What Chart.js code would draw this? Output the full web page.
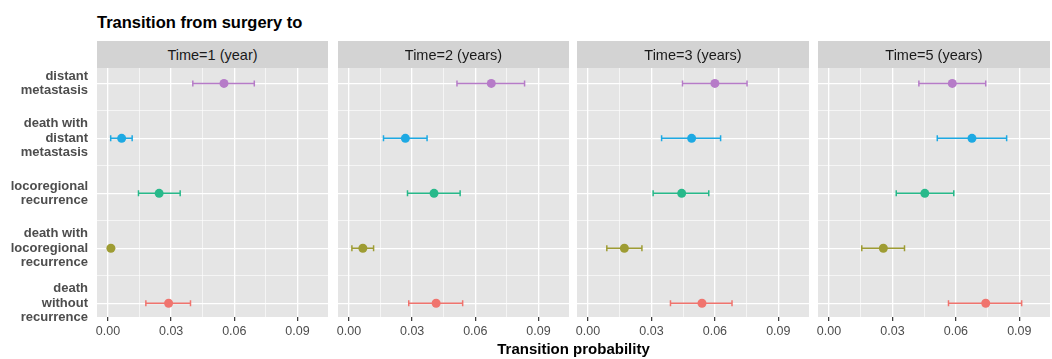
<!DOCTYPE html>
<html>
<head>
<meta charset="utf-8">
<script src="https://cdn.jsdelivr.net/npm/chart.js@4.4.0/dist/chart.umd.min.js"></script>
<style>
    body {
        margin: 0;
        background: #ffffff;
        width: 1052px;
        height: 359px;
        position: relative;
        overflow: hidden;
        font-family: "Liberation Sans", Arial, sans-serif;
    }
    .title {
        position: absolute;
        left: 97px;
        top: 14px;
        font-size: 16.5px;
        font-weight: bold;
        line-height: 1;
        color: #000000;
        white-space: nowrap;
    }
    .strip {
        position: absolute;
        top: 41px;
        height: 27px;
        background: #D3D3D3;
        color: #1A1A1A;
        font-size: 14.5px;
        display: flex;
        align-items: center;
        justify-content: center;
        z-index: 2;
    }
    .box {
        position: absolute;
        top: 41px;
    }
    .xtitle {
        position: absolute;
        left: 97px;
        width: 953px;
        top: 341px;
        text-align: center;
        font-size: 15px;
        font-weight: bold;
        line-height: 1;
        color: #000000;
    }
</style>
</head>
<body>
<div class="title">Transition from surgery to</div>
<div id="panels"></div>
<div class="xtitle">Transition probability</div>
<script>
// categories top to bottom
var CATEGORIES = [
    ["distant", "metastasis"],
    ["death with", "distant", "metastasis"],
    ["locoregional", "recurrence"],
    ["death with", "locoregional", "recurrence"],
    ["death", "without", "recurrence"],
];
var COLORS = ["#B67BC8", "#1DA9E3", "#27B98A", "#9E9C33", "#F0746E"];
var TIMES = ["Time=1 (year)", "Time=2 (years)", "Time=3 (years)", "Time=5 (years)"];

var EST_T1 = [0.0551, 0.0065, 0.0243, 0.0014, 0.0288];
var LO_T1 = [0.0403, 0.0013, 0.0145, 0.0008, 0.0180];
var HI_T1 = [0.0695, 0.0115, 0.0343, 0.0020, 0.0392];

var EST_T2 = [0.0676, 0.0268, 0.0404, 0.0066, 0.0414];
var LO_T2 = [0.0513, 0.0164, 0.0278, 0.0014, 0.0284];
var HI_T2 = [0.0834, 0.0371, 0.0528, 0.0117, 0.0540];

var EST_T3 = [0.0600, 0.0490, 0.0443, 0.0172, 0.0539];
var LO_T3 = [0.0447, 0.0348, 0.0308, 0.0089, 0.0390];
var HI_T3 = [0.0752, 0.0627, 0.0571, 0.0255, 0.0681];

var EST_T5 = [0.0583, 0.0676, 0.0453, 0.0257, 0.0741];
var LO_T5 = [0.0425, 0.0512, 0.0318, 0.0155, 0.0565];
var HI_T5 = [0.0741, 0.0840, 0.0590, 0.0357, 0.0911];

var X_MIN = -0.0052;
var X_MAX = 0.1045;
var X_MAJOR = 0.03;

var PANEL_LEFT = [97, 338, 577, 818];
var PANEL_RIGHT = [328, 569, 809, 1050];

var FONT = "'Liberation Sans', Arial, sans-serif";

function isMajor(v, step) {
    return Math.abs(v / step - Math.round(v / step)) < 1e-6;
}

var panelBg = {
    id: "panelBg",
    beforeDraw: function (chart) {
        var a = chart.chartArea;
        var ctx = chart.ctx;
        ctx.save();
        ctx.fillStyle = "#E5E5E5";
        ctx.fillRect(a.left, a.top, a.right - a.left, a.bottom - a.top);
        ctx.restore();
    },
};

// whiskers drawn under the points, positions from the chart's scales
var errorBars = {
    id: "errorBars",
    beforeDatasetsDraw: function (chart) {
        var ds = chart.data.datasets[0];
        var xs = chart.scales.x;
        var ys = chart.scales.y;
        var ctx = chart.ctx;
        ctx.save();
        ctx.lineWidth = 1.5;
        for (var i = 0; i < ds.lo.length; i++) {
            var x0 = xs.getPixelForValue(ds.lo[i]);
            var x1 = xs.getPixelForValue(ds.hi[i]);
            var py = ys.getPixelForValue(i + 1);
            ctx.strokeStyle = COLORS[i];
            ctx.beginPath();
            ctx.moveTo(x0, py);
            ctx.lineTo(x1, py);
            ctx.moveTo(x0, py - 3);
            ctx.lineTo(x0, py + 3);
            ctx.moveTo(x1, py - 3);
            ctx.lineTo(x1, py + 3);
            ctx.stroke();
        }
        ctx.restore();
    },
};

function makePanel(k, est, lo, hi) {
    var first = k == 0;
    var boxLeft = first ? 0 : PANEL_LEFT[k] - 20;
    var yWidth = PANEL_LEFT[k] - boxLeft;
    var width = PANEL_RIGHT[k] - boxLeft;
    var height = 304;

    var strip = document.createElement("div");
    strip.className = "strip";
    strip.style.left = PANEL_LEFT[k] + "px";
    strip.style.width = PANEL_RIGHT[k] - PANEL_LEFT[k] + "px";
    strip.textContent = TIMES[k];
    document.body.appendChild(strip);

    var box = document.createElement("div");
    box.className = "box";
    box.style.left = boxLeft + "px";
    var canvas = document.createElement("canvas");
    canvas.width = width;
    canvas.height = height;
    box.appendChild(canvas);
    document.getElementById("panels").appendChild(box);

    var points = [];
    for (var i = 0; i < est.length; i++) {
        points.push({ x: est[i], y: i + 1 });
    }

    new Chart(canvas, {
        type: "scatter",
        data: {
            datasets: [
                {
                    data: points,
                    lo: lo,
                    hi: hi,
                    pointRadius: 4.5,
                    pointHoverRadius: 4.5,
                    pointBorderWidth: 0,
                    pointBackgroundColor: COLORS,
                    pointBorderColor: COLORS,
                },
            ],
        },
        options: {
            animation: false,
            responsive: false,
            events: [],
            layout: { autoPadding: false, padding: { top: 27, left: 0, right: 0, bottom: 0 } },
            plugins: {
                legend: { display: false },
                tooltip: { enabled: false },
            },
            scales: {
                x: {
                    type: "linear",
                    min: X_MIN,
                    max: X_MAX,
                    border: { display: false },
                    grid: {
                        color: "#FFFFFF",
                        lineWidth: function (c) {
                            return c.tick && isMajor(c.tick.value, X_MAJOR) ? 1.3 : 0.6;
                        },
                        drawTicks: true,
                        tickLength: 4,
                        tickWidth: 1.2,
                        tickColor: function (c) {
                            return c.tick && isMajor(c.tick.value, X_MAJOR) ? "#333333" : "rgba(0,0,0,0)";
                        },
                    },
                    ticks: {
                        stepSize: 0.015,
                        includeBounds: false,
                        autoSkip: false,
                        maxRotation: 0,
                        padding: 3,
                        color: "#4D4D4D",
                        font: { family: FONT, size: 12.5 },
                        callback: function (value) {
                            return isMajor(value, X_MAJOR) ? value.toFixed(2) : "";
                        },
                    },
                    afterFit: function (scale) {
                        scale.height = 28;
                        scale.paddingLeft = 0;
                        scale.paddingRight = 0;
                    },
                },
                y: {
                    type: "linear",
                    reverse: true,
                    min: 0.72,
                    max: 5.25,
                    border: { display: false },
                    grid: {
                        color: "#FFFFFF",
                        lineWidth: function (c) {
                            return c.tick && isMajor(c.tick.value, 1) ? 1.3 : 0.6;
                        },
                        drawTicks: false,
                    },
                    ticks: {
                        display: first,
                        stepSize: 0.5,
                        includeBounds: false,
                        autoSkip: false,
                        padding: 9,
                        color: "#4D4D4D",
                        font: { family: FONT, size: 13, weight: "bold", lineHeight: 1.12 },
                        callback: function (value) {
                            return isMajor(value, 1) ? CATEGORIES[Math.round(value) - 1] : "";
                        },
                    },
                    afterFit: function (scale) {
                        scale.width = yWidth;
                        scale.paddingTop = 0;
                        scale.paddingBottom = 0;
                    },
                },
            },
        },
        plugins: [panelBg, errorBars],
    });
}

makePanel(0, EST_T1, LO_T1, HI_T1);
makePanel(1, EST_T2, LO_T2, HI_T2);
makePanel(2, EST_T3, LO_T3, HI_T3);
makePanel(3, EST_T5, LO_T5, HI_T5);
</script>
</body>
</html>
